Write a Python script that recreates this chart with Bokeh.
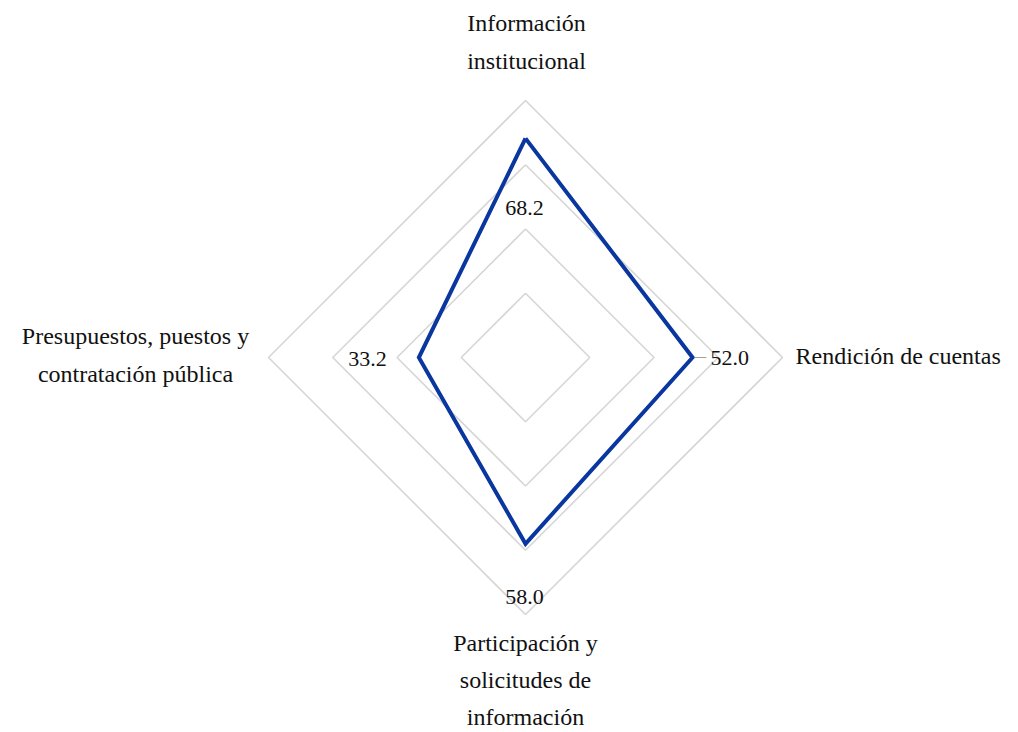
import numpy as np
from bokeh.plotting import figure
from bokeh.models import Range1d
from bokeh.core.properties import value
from bokeh.embed import file_html
from bokeh.resources import INLINE

# ---- data ----
categories = ["Información\ninstitucional", "Rendición de cuentas",
              "Participación y\nsolicitudes de\ninformación",
              "Presupuestos, puestos y\ncontratación pública"]
scores = [68.2, 52.0, 58.0, 33.2]
value_labels = ["68.2", "52.0", "58.0", "33.2"]
rings = [20, 40, 60, 80]

# ---- geometry (style) ----
angles = np.deg2rad([90, 0, -90, 180])  # clockwise from top
PX = 257 / 80.0  # pixels per unit
W, H = 1018, 732
cx, cy = 525, 357  # centre in frame pixels
FONT = value("Liberation Serif")

def dx(px):
    return (px - cx) / PX

def dy(py):
    return (cy - py) / PX

p = figure(width=W, height=H, output_backend="svg", toolbar_location=None,
           min_border=0, outline_line_color=None,
           x_range=Range1d(-cx / PX, (W - cx) / PX),
           y_range=Range1d(-(H - cy) / PX, cy / PX))
p.axis.visible = False
p.grid.visible = False
p.background_fill_color = "white"
p.border_fill_color = "white"

# grid rings
for r in rings:
    xs = list(r * np.cos(angles)) + [r * np.cos(angles[0])]
    ys = list(r * np.sin(angles)) + [r * np.sin(angles[0])]
    p.line(xs, ys, line_color="#d6d6d6", line_width=1.6)

# data polygon
sx = [s * np.cos(a) for s, a in zip(scores, angles)]
sy = [s * np.sin(a) for s, a in zip(scores, angles)]
p.line(sx + [sx[0]], sy + [sy[0]], line_color="#0a36a0", line_width=4,
       line_join="miter")

# leader line for 52.0
p.line([scores[1] + 0.6, scores[1] + 4.3], [0, 0], line_color="#a0a0a0", line_width=1)

# value labels (label anchor positions are styling, in screen px)
lab_pos = [(524, 207, "center"), (710, 357, "left"), (524, 596, "center"), (367, 358, "center")]
for (x, y, al), t in zip(lab_pos, value_labels):
    p.text([dx(x)], [dy(y)], text=[t], text_font=FONT,
           text_font_size="22px", text_align=al, text_baseline="middle",
           text_color="#111111")

# category labels: first-line centre positions and line spacing (px)
cat_pos = [(526, 22, "center", 38.5), (795, 355, "left", 38.5),
           (525, 642, "center", 37.0), (135, 335, "center", 38.5)]
for (x, y, al, sp), t in zip(cat_pos, categories):
    lines = t.split("\n")
    for i, ln in enumerate(lines):
        p.text([dx(x)], [dy(y + sp * i)], text=[ln], text_font=FONT,
               text_font_size="24px", text_align=al, text_baseline="middle",
               text_color="#111111")

open("out.html", "w").write(file_html(p, INLINE))
